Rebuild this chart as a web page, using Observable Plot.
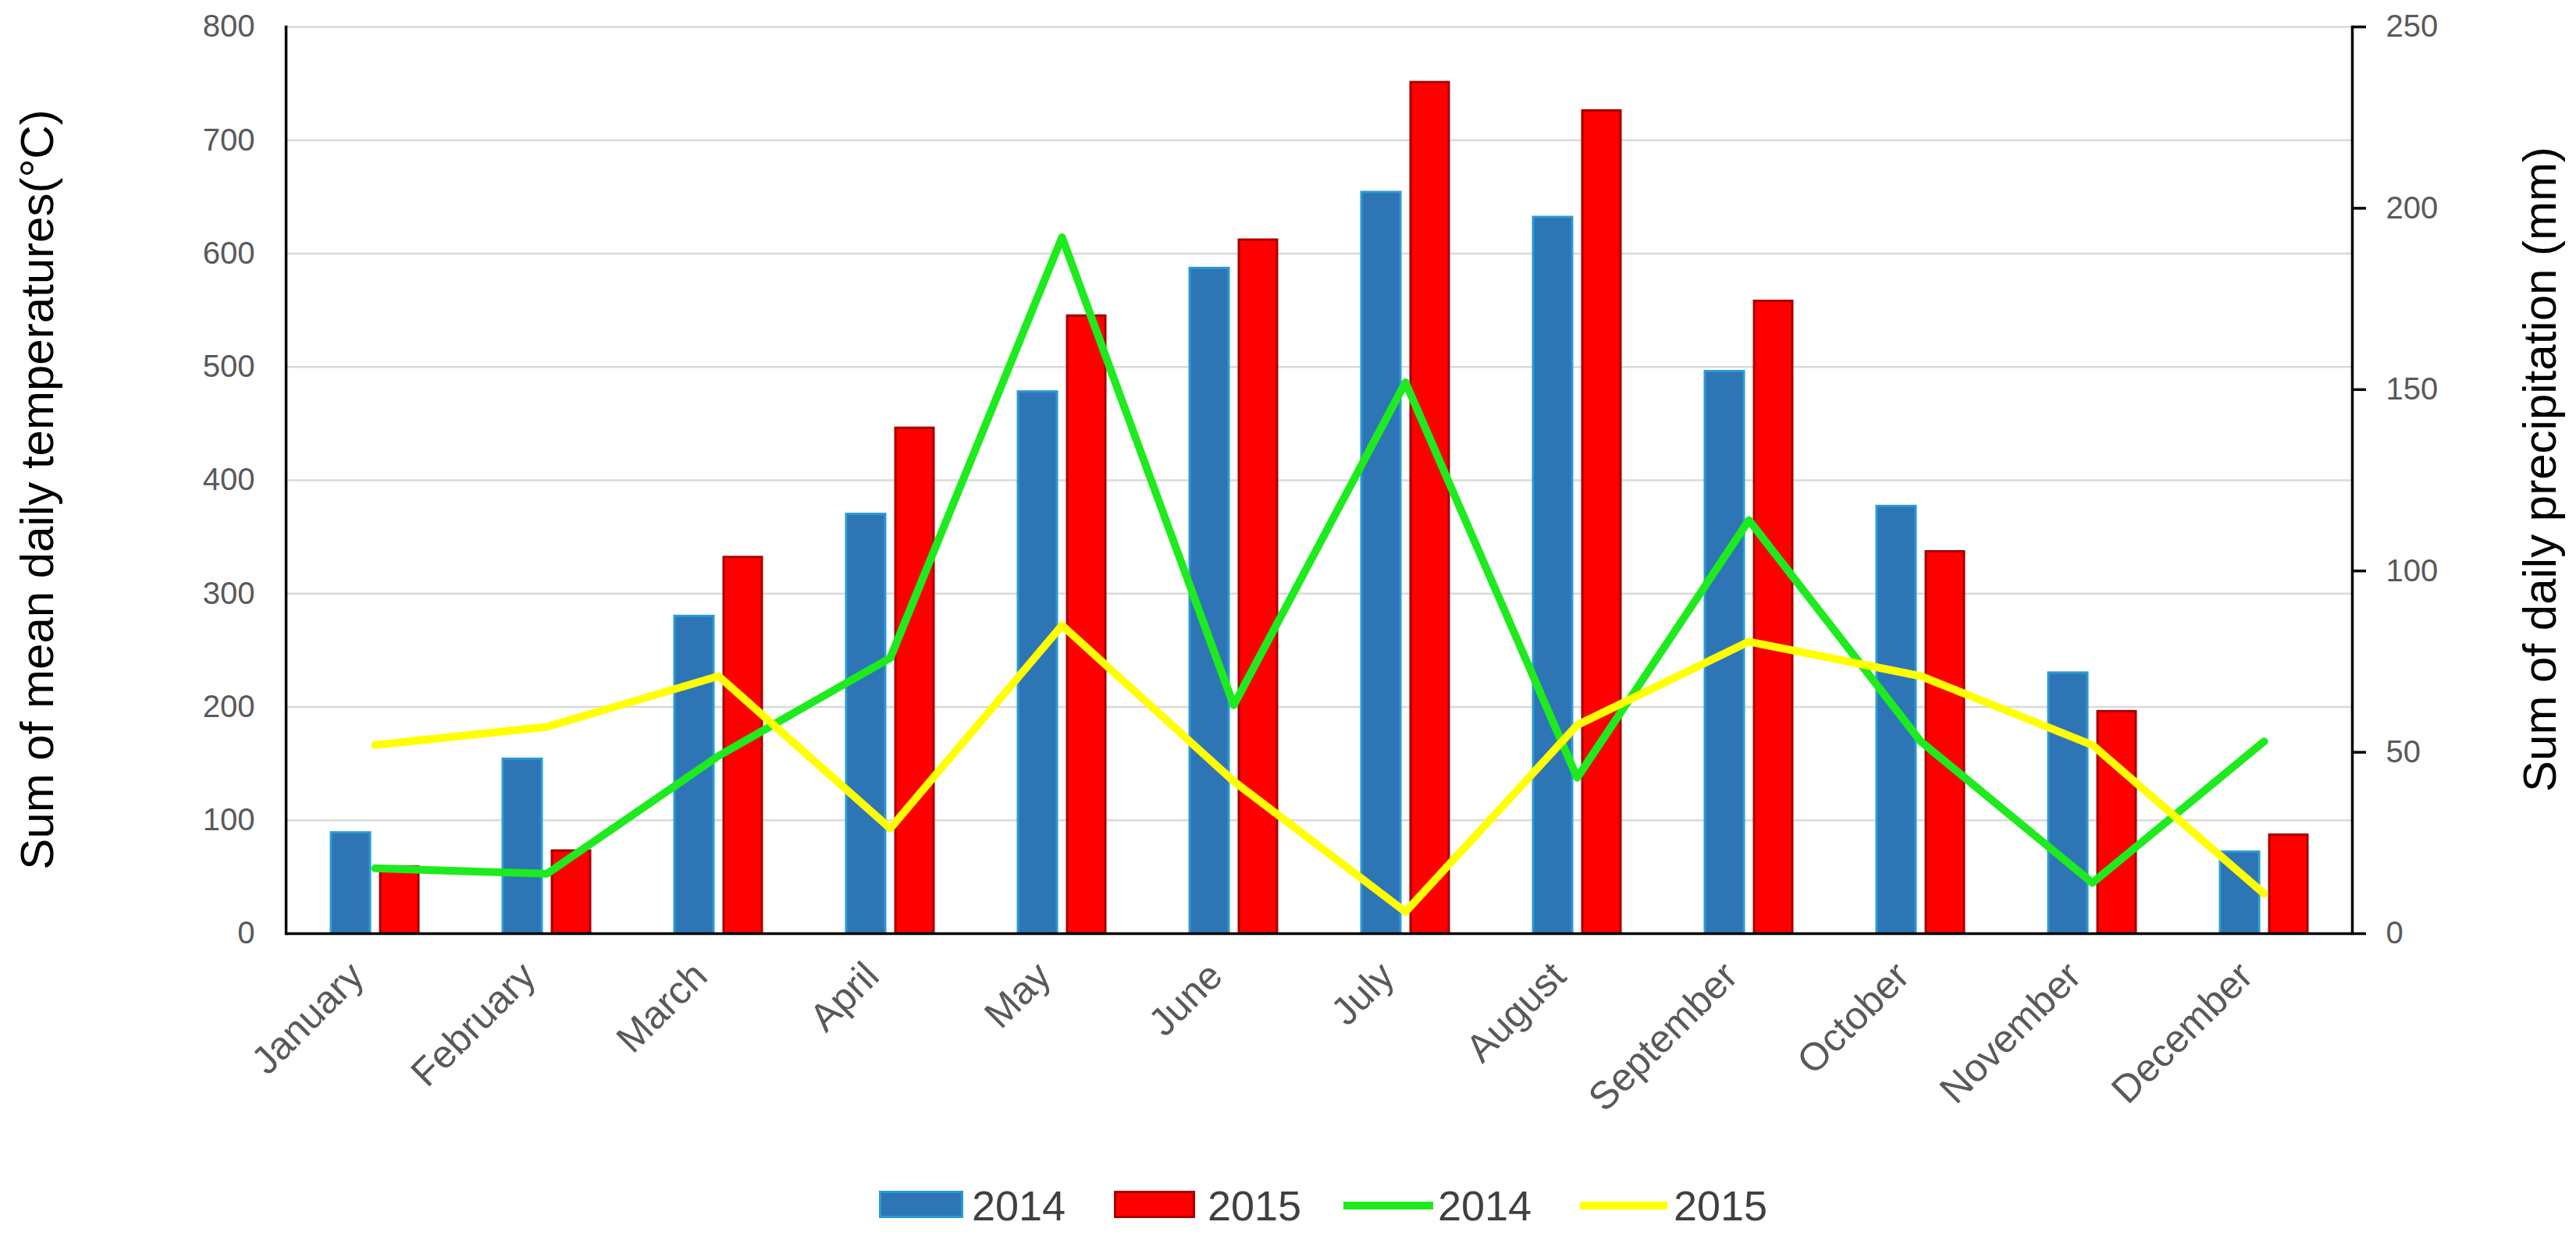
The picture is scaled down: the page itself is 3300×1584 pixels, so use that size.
<!DOCTYPE html>
<html>
<head>
<meta charset="utf-8">
<script src="https://cdn.jsdelivr.net/npm/d3@7"></script>
<script src="https://cdn.jsdelivr.net/npm/@observablehq/plot@0.6"></script>
<style>
  html, body { margin: 0; padding: 0; background: #fff; }
  body { width: 3300px; height: 1584px; overflow: hidden; font-family: "Liberation Sans", Arial, sans-serif; }
  #legend { position: relative; width: 3300px; height: 104px; }
  .sw { position: absolute; box-sizing: border-box; }
  .lt { position: absolute; font-size: 54px; color: #404040; line-height: 1; }
</style>
</head>
<body>
<div id="chart"></div>
<div id="legend"></div>
<script>
// ---- data ----
const months = ["January","February","March","April","May","June","July","August","September","October","November","December"];
const temp2014 = [89, 154, 280, 370, 478, 587, 654, 632, 496, 377, 230, 72];
const temp2015 = [59, 73, 332, 446, 545, 612, 751, 726, 558, 337, 196, 87];
const precip2014 = [18, 16.5, 49, 76, 192, 63, 152, 43, 114, 53, 14, 53];
const precip2015 = [52, 57, 71, 29, 85, 42, 6, 57.5, 80.5, 71, 52, 11];
const leftTicks = [0, 100, 200, 300, 400, 500, 600, 700, 800];
const rightTicks = [0, 50, 100, 150, 200, 250];
const leftTitle = "Sum of mean daily temperatures(°C)";
const rightTitle = "Sum of daily precipitation (mm)";
const legendLabels = ["2014", "2015", "2014", "2015"];

const leftMax = 800, rightMax = 250;
const k = leftMax / rightMax;
const rows = months.map((m, i) => ({month: m, t2014: temp2014[i], t2015: temp2015[i], p2014: precip2014[i], p2015: precip2015[i]}));

const colors = {
  blue: "#2e75b6", blueEdge: "#2a9ad6",
  red: "#ff0000", redEdge: "#a80000",
  green: "#1eeb1e", yellow: "#ffff00"
};

const chart = Plot.plot({
  width: 3300,
  height: 1480,
  marginTop: 34,
  marginBottom: 284,
  marginLeft: 366,
  marginRight: 287,
  style: {fontFamily: "Liberation Sans, Arial, sans-serif", background: "#fff"},
  x: {type: "band", domain: months, padding: 0, axis: null},
  y: {domain: [0, leftMax], axis: null},
  marks: [
    Plot.ruleY(leftTicks.filter(d => d > 0), {stroke: "#d9d9d9", strokeWidth: 2.5}),
    Plot.barY(rows, {x: "month", y: "t2014", fill: colors.blue, stroke: colors.blueEdge, strokeWidth: 3, insetLeft: 54, insetRight: 116}),
    Plot.barY(rows, {x: "month", y: "t2015", fill: colors.red, stroke: colors.redEdge, strokeWidth: 3, insetLeft: 117, insetRight: 54}),
    Plot.line(rows, {x: "month", y: d => d.p2014 * k, stroke: colors.green, strokeWidth: 10, strokeLinejoin: "round"}),
    Plot.line(rows, {x: "month", y: d => d.p2015 * k, stroke: colors.yellow, strokeWidth: 10, strokeLinejoin: "round"}),
    Plot.ruleY([0], {stroke: "black", strokeWidth: 3.5}),
    Plot.frame({anchor: "left", stroke: "black", strokeWidth: 3.5}),
    Plot.frame({anchor: "right", stroke: "black", strokeWidth: 3.5}),
    Plot.axisY({anchor: "left", ticks: leftTicks, tickSize: 0, tickPadding: 40, fontSize: 40, fill: "#595959", label: null}),
    Plot.axisY({anchor: "right", ticks: rightTicks.map(d => d * k), tickFormat: d => String(Math.round(d / k)),
      tickSize: 17, tickPadding: 26, stroke: "black", strokeWidth: 3.5, fill: "#595959", fontSize: 40, label: null}),
    Plot.axisX({anchor: "bottom", tickSize: 0, tickPadding: 46, dx: -23, tickRotate: -45, fontSize: 50, fill: "#595959", label: null}),
    Plot.text([leftTitle], {text: d => d, frameAnchor: "left", rotate: -90, dx: -318, dy: 12, fontSize: 60, fill: "black", textAnchor: "middle"}),
    Plot.text([rightTitle], {text: d => d, frameAnchor: "right", rotate: -90, dx: 241, dy: -14, fontSize: 60, fill: "black", textAnchor: "middle"})
  ]
});
document.getElementById("chart").appendChild(chart);

// ---- legend (HTML, below the SVG) ----
const legend = document.getElementById("legend");
const items = [
  {kind: "bar", fill: colors.blue, edge: colors.blueEdge, left: 1126, w: 108, textLeft: 1245},
  {kind: "bar", fill: colors.red, edge: colors.redEdge, left: 1427, w: 104, textLeft: 1547},
  {kind: "line", fill: colors.green, left: 1721, w: 115, textLeft: 1842},
  {kind: "line", fill: colors.yellow, left: 2024, w: 112, textLeft: 2144}
];
items.forEach((it, i) => {
  const sw = document.createElement("div");
  sw.className = "sw";
  sw.style.left = it.left + "px";
  sw.style.width = it.w + "px";
  if (it.kind === "bar") {
    sw.style.top = "46px"; sw.style.height = "35px";
    sw.style.background = it.fill; sw.style.border = "3px solid " + it.edge;
  } else {
    sw.style.top = "60px"; sw.style.height = "10px";
    sw.style.background = it.fill;
  }
  legend.appendChild(sw);
  const t = document.createElement("div");
  t.className = "lt";
  t.style.left = it.textLeft + "px";
  t.style.top = "38px";
  t.textContent = legendLabels[i];
  legend.appendChild(t);
});
</script>
</body>
</html>
